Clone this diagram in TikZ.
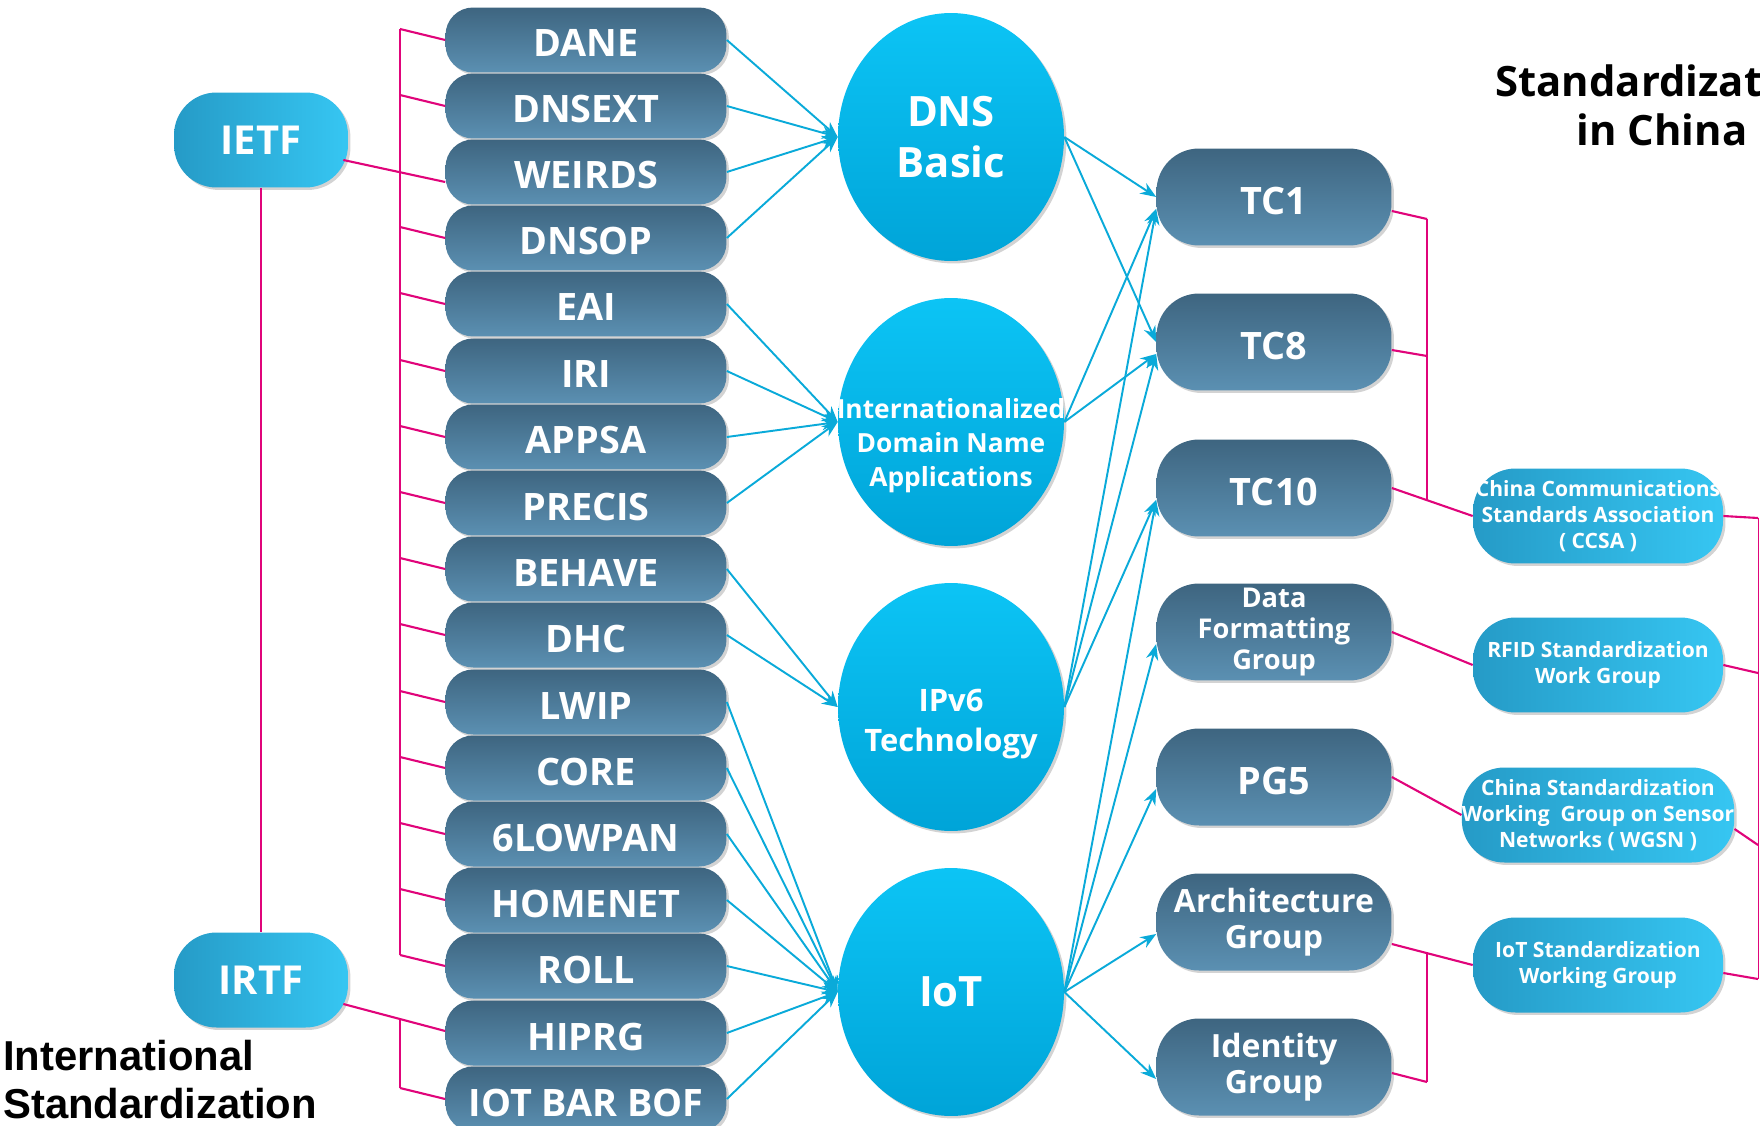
\documentclass[tikz,border=0pt]{standalone}
\usepackage{fontspec}
\setmainfont{Open Sans}
\newfontfamily\intlfont{Liberation Sans}
\usepackage{tikz}
\usetikzlibrary{arrows.meta,positioning,shapes.geometric,shadows,calc}

\definecolor{pilldark}{HTML}{3E6580}
\definecolor{pilllight}{HTML}{5B90B2}
\definecolor{orgdark}{HTML}{1E88B4}
\definecolor{orglight}{HTML}{36C6F2}
\definecolor{balltop}{HTML}{0CC4F5}
\definecolor{ballbot}{HTML}{00A4D8}
\definecolor{arrowc}{HTML}{0AAAD9}
\definecolor{linkc}{HTML}{E0047A}

\begin{document}
\begin{tikzpicture}[x=0.02cm, y=-0.02cm,
	shade/.style={drop shadow={shadow xshift=1.4pt, shadow yshift=-1.4pt, opacity=.35}},
	wg/.style={shade, rectangle, rounded corners=0.55cm, minimum width=5.62cm, minimum height=1.3cm,
		text height=0.68cm, text depth=0pt, inner ysep=0pt,
		top color=pilldark, bottom color=pilllight, text=white, font=\fontsize{21.5}{24}\selectfont\bfseries},
	tc/.style={shade, rectangle, rounded corners=0.85cm, minimum width=4.7cm, minimum height=1.94cm,
		top color=pilldark, bottom color=pilllight, text=white, align=center, inner sep=0pt},
	org/.style={shade, rectangle, rounded corners=0.85cm, minimum height=1.9cm,
		left color=orgdark!70!orglight, middle color=orgdark, right color=orglight, text=white, align=center, inner sep=0pt},
	topic/.style={shade, ellipse, minimum width=4.52cm, minimum height=4.96cm, inner sep=0pt,
		top color=balltop, bottom color=ballbot},
	topictext/.style={text=white, align=center, inner sep=0pt},
	feed/.style={draw=arrowc, line width=1.1pt, -{Stealth[length=9pt,width=7pt]}},
	link/.style={draw=linkc, line width=1.2pt},
	bar/.style={draw=linkc, line width=0.7pt}
	]
	\useasboundingbox (0,0) rectangle (1760,1125);

	% organisations
	\node[org, minimum width=3.48cm, font=\fontsize{22.7}{26}\selectfont\bfseries] (ietf) at (261, 140) {IETF};
	\node[org, minimum width=3.48cm, font=\fontsize{22.7}{26}\selectfont\bfseries] (irtf) at (261, 980) {IRTF};

	% working groups
	\node[wg] (dane) at (586, 40) {DANE};
	\node[wg] (dnsext) at (586, 106) {DNSEXT};
	\node[wg] (weirds) at (586, 172) {WEIRDS};
	\node[wg] (dnsop) at (586, 238) {DNSOP};
	\node[wg] (eai) at (586, 304) {EAI};
	\node[wg] (iri) at (586, 371) {IRI};
	\node[wg] (appsa) at (586, 437) {APPSA};
	\node[wg] (precis) at (586, 503) {PRECIS};
	\node[wg] (behave) at (586, 569) {BEHAVE};
	\node[wg] (dhc) at (586, 635) {DHC};
	\node[wg] (lwip) at (586, 702) {LWIP};
	\node[wg] (core) at (586, 768) {CORE};
	\node[wg] (lowpan) at (586, 834) {6LOWPAN};
	\node[wg] (homenet) at (586, 900) {HOMENET};
	\node[wg] (roll) at (586, 966) {ROLL};
	\node[wg] (hiprg) at (586, 1033) {HIPRG};
	\node[wg] (iotbar) at (586, 1099) {IOT BAR BOF};

	% topics
	\node[topic] (dns) at (951, 137) {};
	\node[topic] (idn) at (951, 422) {};
	\node[topic] (ipv6) at (951, 707) {};
	\node[topic] (iot) at (951, 992) {};
	\node[topictext, font=\fontsize{23.8}{29}\selectfont\bfseries] at (dns) {DNS\\Basic};
	\node[topictext, font=\fontsize{15}{19.3}\selectfont\bfseries] at (951, 446) {Internationalized\\Domain Name\\Applications};
	\node[topictext, font=\fontsize{17.6}{22.7}\selectfont\bfseries] at (951, 724) {IPv6\\Technology};
	\node[topictext, font=\fontsize{23.8}{29}\selectfont\bfseries] at (iot) {IoT};

	% china committees
	\node[tc, font=\fontsize{21.5}{24}\selectfont\bfseries, text height=0.7cm, text depth=0pt] (tc1) at (1274, 197) {TC1};
	\node[tc, font=\fontsize{21.5}{24}\selectfont\bfseries, text height=0.7cm, text depth=0pt] (tc8) at (1274, 342) {TC8};
	\node[tc, font=\fontsize{21.5}{24}\selectfont\bfseries, text height=0.7cm, text depth=0pt] (tc10) at (1274, 488) {TC10};
	\node[tc, font=\fontsize{15.5}{17.6}\selectfont\bfseries] (data) at (1274, 632) {Data\\Formatting\\Group};
	\node[tc, font=\fontsize{21.5}{24}\selectfont\bfseries, text height=0.7cm, text depth=0pt] (pg5) at (1274, 777) {PG5};
	\node[tc, font=\fontsize{18.2}{20.4}\selectfont\bfseries] (arch) at (1274, 922) {Architecture\\Group};
	\node[tc, font=\fontsize{18.2}{20.4}\selectfont\bfseries] (ident) at (1274, 1067) {Identity\\Group};

	\node[org, minimum width=5cm, font=\fontsize{12}{14.7}\selectfont\bfseries] (ccsa) at (1598, 516) {China Communications\\Standards Association\\( CCSA )};
	\node[org, minimum width=5cm, font=\fontsize{12}{14.7}\selectfont\bfseries] (rfid) at (1598, 665) {RFID Standardization\\Work Group};
	\node[org, minimum width=5cm, font=\fontsize{12}{14.7}\selectfont\bfseries] (wgsn) at (1598, 815) {China Standardization\\Working~~Group on Sensor\\Networks ( WGSN )};
	\node[org, minimum width=5cm, font=\fontsize{12}{14.7}\selectfont\bfseries] (iotwg) at (1598, 965) {IoT Standardization\\Working Group};

	% titles
	\node[anchor=north, align=center, inner sep=0pt, font=\fontsize{23.8}{28.3}\selectfont\bfseries] (chinatitle) at (1662, 64) {Standardization\\in China};
	\node[anchor=north west, align=left, inner sep=0pt, font=\intlfont\fontsize{23.8}{27.2}\selectfont\bfseries] (intltitle) at (3, 1040) {International\\Standardization};

	% bracket points
	\coordinate (lb1) at (400, 29);
	\coordinate (lb2) at (400, 955);
	\coordinate (lb3) at (400, 1019);
	\coordinate (lb4) at (400, 1088);
	\coordinate (rb1) at (1427, 219);
	\coordinate (rb2) at (1427, 500);
	\coordinate (rb3) at (1427, 953);
	\coordinate (rb4) at (1427, 1082);
	\coordinate (cb1) at (1758, 518);
	\coordinate (cb2) at (1758, 979);

	% IETF / IRTF links
	\draw [bar] (ietf.south) to (irtf.north);
	\draw [link] ($(ietf.east)+(-5,20)$) to ($(weirds.west)+(0,10)$);
	\draw [link] ($(irtf.east)+(-5,24)$) to ($(hiprg.west)+(0,-2)$);
	\draw [bar] (lb1) to (lb2);
	\draw [bar] (lb3) to (lb4);
	\draw [link] (dane.west) to (lb1);
	\draw [link] (dnsext.west) to ($(dnsext.west -| lb1)+(0,-11)$);
	\draw [link] (dnsop.west) to ($(dnsop.west -| lb1)+(0,-11)$);
	\draw [link] (eai.west) to ($(eai.west -| lb1)+(0,-11)$);
	\draw [link] (iri.west) to ($(iri.west -| lb1)+(0,-11)$);
	\draw [link] (appsa.west) to ($(appsa.west -| lb1)+(0,-11)$);
	\draw [link] (precis.west) to ($(precis.west -| lb1)+(0,-11)$);
	\draw [link] (behave.west) to ($(behave.west -| lb1)+(0,-11)$);
	\draw [link] (dhc.west) to ($(dhc.west -| lb1)+(0,-11)$);
	\draw [link] (lwip.west) to ($(lwip.west -| lb1)+(0,-11)$);
	\draw [link] (core.west) to ($(core.west -| lb1)+(0,-11)$);
	\draw [link] (lowpan.west) to ($(lowpan.west -| lb1)+(0,-11)$);
	\draw [link] (homenet.west) to ($(homenet.west -| lb1)+(0,-11)$);
	\draw [link] (roll.west) to (lb2);
	\draw [link] (iotbar.west) to (lb4);

	% working groups to topics
	\draw [feed] (dane.east) to (dns.west);
	\draw [feed] (dnsext.east) to (dns.west);
	\draw [feed] (weirds.east) to (dns.west);
	\draw [feed] (dnsop.east) to (dns.west);
	\draw [feed] (eai.east) to (idn.west);
	\draw [feed] (iri.east) to (idn.west);
	\draw [feed] (appsa.east) to (idn.west);
	\draw [feed] (precis.east) to (idn.west);
	\draw [feed] (behave.east) to (ipv6.west);
	\draw [feed] (dhc.east) to (ipv6.west);
	\draw [feed] (lwip.east) to (iot.west);
	\draw [feed] (core.east) to (iot.west);
	\draw [feed] (lowpan.east) to (iot.west);
	\draw [feed] (homenet.east) to (iot.west);
	\draw [feed] (roll.east) to (iot.west);
	\draw [feed] (hiprg.east) to (iot.west);
	\draw [feed] (iotbar.east) to (iot.west);

	% topics to china committees
	\draw [feed] (dns.east) to (tc1.west);
	\draw [feed] (dns.east) to (tc8.west);
	\draw [feed] (idn.east) to ($(tc1.west)+(0,12)$);
	\draw [feed] (idn.east) to ($(tc8.west)+(0,12)$);
	\draw [feed] (ipv6.east) to ($(tc1.west)+(0,12)$);
	\draw [feed] (ipv6.east) to ($(tc8.west)+(0,12)$);
	\draw [feed] (ipv6.east) to ($(tc10.west)+(0,12)$);
	\draw [feed] (iot.east) to ($(tc10.west)+(0,12)$);
	\draw [feed] (iot.east) to ($(data.west)+(0,12)$);
	\draw [feed] (iot.east) to ($(pg5.west)+(0,12)$);
	\draw [feed] (iot.east) to ($(arch.west)+(0,12)$);
	\draw [feed] (iot.east) to ($(ident.west)+(0,12)$);

	% committees to china organisations
	\draw [bar] (rb1) to (rb2);
	\draw [bar] (rb3) to (rb4);
	\draw [link] ($(tc1.east)+(0,14)$) to (rb1);
	\draw [link] ($(tc8.east)+(0,8)$) to ($(tc8.east -| rb1)+(0,14)$);
	\draw [link] (tc10.east) to (ccsa.west);
	\draw [link] (data.east) to (rfid.west);
	\draw [link] (pg5.east) to (wgsn.west);
	\draw [link] ($(arch.east)+(0,22)$) to (iotwg.west);
	\draw [link] ($(ident.east)+(0,6)$) to (rb4);
	\draw [bar, line width=0.5pt] (cb1) to (cb2);
	\draw [link] (ccsa.east) to (cb1);
	\draw [link] (rfid.east) to ($(rfid.east -| cb1)+(0,8)$);
	\draw [link] ($(wgsn.east)+(0,14)$) to ($(wgsn.east -| cb1)+(0,30)$);
	\draw [link] ($(iotwg.east)+(0,8)$) to (cb2);
\end{tikzpicture}
\end{document}
